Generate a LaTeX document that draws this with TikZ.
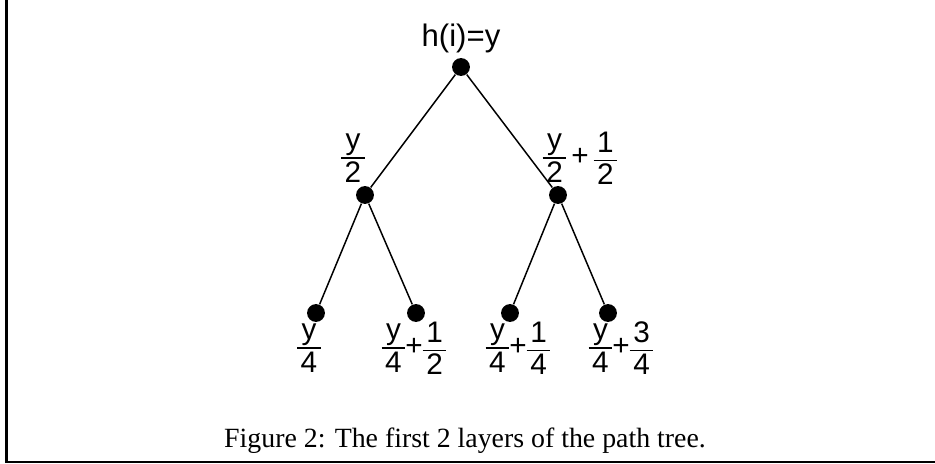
\documentclass[tikz,border=0pt]{standalone}
\usepackage{fontspec}
\setmainfont{Liberation Serif}
\newfontfamily\labelfont{Liberation Sans}
\usetikzlibrary{positioning}
% sans fraction: numerator over rule over denominator
\newcommand{\fr}[2]{$\vcenter{\offinterlineskip\halign{\hfil\kern0.12em##\kern0.12em\hfil\cr
  \vrule height 0.53em depth 0.26em width 0pt #1\cr
  \noalign{\hrule height 0.5pt}
  \vrule height 0.78em depth 0pt width 0pt #2\cr}}$}
\newcommand{\pl}{\hbox{\labelfont +}}
\tikzset{
  every picture/.style={x=0.37pt, y=-0.37pt},
  dot/.style={circle, fill=black, inner sep=0pt, minimum size=6.6pt},
  edge/.style={draw=black, line width=0.55pt},
  lab/.style={font=\labelfont\fontsize{11}{13}\selectfont, inner sep=0pt},
  rootlab/.style={font=\labelfont\fontsize{11.5}{13}\selectfont, inner sep=0pt, anchor=base},
  caption/.style={font=\fontsize{10.3}{12}\selectfont, inner sep=0pt, anchor=base},
  frame/.style={draw=black, line width=0.75pt},
}
\begin{document}
\begin{tikzpicture}
  \useasboundingbox (0,0) rectangle (935,463);
  % tree
  \node[dot] (root) at (461,67) {};
  \node[dot] (l) at (365,195) {};
  \node[dot] (r) at (558,195) {};
  \foreach \n/\x in {ll/316, lr/416, rl/510, rr/608}
    \node[dot] (\n) at (\x,313) {};
  \draw[edge] (root) -- (l);
  \draw[edge] (root) -- (r);
  \draw[edge] (l) -- (ll);
  \draw[edge] (l) -- (lr);
  \draw[edge] (r) -- (rl);
  \draw[edge] (r) -- (rr);
  % labels
  \node[rootlab] (root-lab) at (461,46) {h(i)=y};
  \node[lab] (l-lab) at (353,158) {\fr{y}{2}};
  \node[lab] (r-lab) at (580,158) {\fr{y}{2}\,\pl\,\fr{1}{2}};
  \foreach \n/\x/\t in {ll/309/{\fr{y}{4}}, lr/414/{\fr{y}{4}\pl\fr{1}{2}},
                        rl/518/{\fr{y}{4}\pl\fr{1}{4}}, rr/621/{\fr{y}{4}\pl\fr{3}{4}}}
    \node[lab] (\n-lab) at (\x,348) {\t};
  % figure frame and caption
  \draw[frame] (6.5,0) -- (6.5,461.5) -- (935,461.5);
  \node[caption] (cap) at (465,447) {Figure 2: The first 2 layers of the path tree.};
\end{tikzpicture}
\end{document}
